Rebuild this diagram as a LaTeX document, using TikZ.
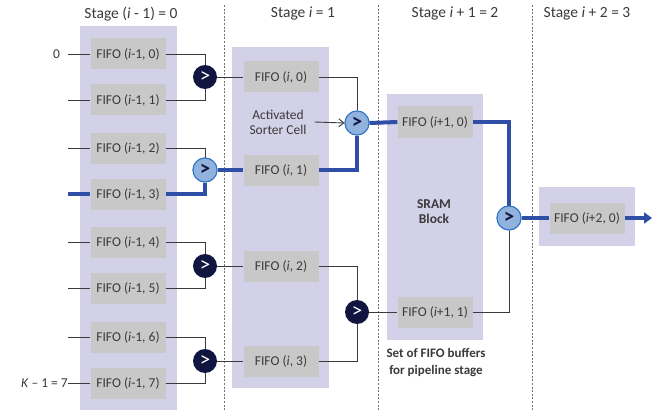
\documentclass[tikz,border=0pt]{standalone}
\usepackage{fontspec}
\setmainfont{Carlito}
\usepackage{tikz}
\usetikzlibrary{positioning,arrows.meta,calc}
\usepackage{xcolor}
\definecolor{StageBg}{RGB}{211,209,232}
\definecolor{FifoGray}{RGB}{200,200,200}
\definecolor{CellDark}{RGB}{16,22,64}
\definecolor{CellLight}{RGB}{145,178,220}
\definecolor{CellEdge}{RGB}{46,117,198}
\definecolor{PathBlue}{RGB}{47,78,166}
\definecolor{TextGray}{RGB}{58,58,58}

\begin{document}
\begin{tikzpicture}[
    x=1pt, y=-1pt,
    every node/.style={font=\fontsize{13.5}{15}\selectfont, text=TextGray},
    stagebg/.style={fill=StageBg, draw=none},
    fifo/.style={fill=FifoGray, minimum width=75pt, minimum height=31pt, inner sep=0pt},
    darkcell/.style={circle, fill=CellDark, minimum size=24pt, inner sep=0pt, text=white, font=\fontsize{21}{21}\selectfont},
    lightcell/.style={circle, fill=CellLight, draw=CellEdge, line width=1pt, minimum size=24pt, inner sep=0pt, text=CellDark, font=\fontsize{21}{21}\selectfont\bfseries},
    wire/.style={draw=TextGray, line width=0.9pt},
    hotwire/.style={draw=PathBlue, line width=4pt},
    sep/.style={draw=gray!90!black, line width=1pt, dash pattern=on 2pt off 1.6pt},
    stagelabel/.style={font=\fontsize{15.5}{17}\selectfont},
]
\useasboundingbox (0,0) rectangle (654,412);

% stage backgrounds
\fill[stagebg] (80,26) rectangle (177,410);
\fill[stagebg] (232,47) rectangle (329,388);
\fill[stagebg] (387,94) rectangle (483,340);
\fill[stagebg] (539,187) rectangle (635,246);

% stage separators
\draw[sep] (224,5) -- (224,412);
\draw[sep] (378,5) -- (378,412);
\draw[sep] (532,5) -- (532,412);

% stage titles
\node[stagelabel] at (131,14) {Stage (\textit{i} - 1) = 0};
\node[stagelabel] at (303,14) {Stage \textit{i} = 1};
\node[stagelabel] at (455,14) {Stage \textit{i} + 1 = 2};
\node[stagelabel] at (587,14) {Stage \textit{i} + 2 = 3};

% stage 0 fifos
\node[fifo] (f0) at (128,54)  {FIFO (\textit{i}-1, 0)};
\node[fifo] (f1) at (128,100) {FIFO (\textit{i}-1, 1)};
\node[fifo] (f2) at (128,148) {FIFO (\textit{i}-1, 2)};
\node[fifo] (f3) at (128,194) {FIFO (\textit{i}-1, 3)};
\node[fifo] (f4) at (128,242) {FIFO (\textit{i}-1, 4)};
\node[fifo] (f5) at (128,288) {FIFO (\textit{i}-1, 5)};
\node[fifo] (f6) at (128,337) {FIFO (\textit{i}-1, 6)};
\node[fifo] (f7) at (128,383) {FIFO (\textit{i}-1, 7)};

% inputs
\coordinate (in0) at (68,54);
\coordinate (in1) at (68,100);
\coordinate (in2) at (68,148);
\coordinate (in3) at (68,194);
\coordinate (in4) at (68,242);
\coordinate (in5) at (68,288);
\coordinate (in6) at (68,337);
\coordinate (in7) at (68,383);
\node[anchor=east, inner sep=1pt] (lab0) at (in0) {0\,\,\,};
\node[anchor=east, inner sep=0pt] (lab7) at (in7) {\textit{K} – 1 = 7};

% stage 0 sorters
\node[darkcell]  (s0) at (205,77)  {>};
\node[lightcell] (s1) at (205,170) {>};
\node[darkcell]  (s2) at (205,266) {>};
\node[darkcell]  (s3) at (205,361) {>};

% stage 1 fifos
\node[fifo] (g0) at (281,77)  {FIFO (\textit{i}, 0)};
\node[fifo] (g1) at (281,170) {FIFO (\textit{i}, 1)};
\node[fifo] (g2) at (281,266) {FIFO (\textit{i}, 2)};
\node[fifo] (g3) at (281,361) {FIFO (\textit{i}, 3)};
\node[align=center, inner sep=0pt] (act) at (278,122) {Activated\\Sorter Cell};

% stage 1 sorters
\node[lightcell] (s4) at (357,123) {>};
\node[darkcell]  (s5) at (357,312) {>};

% stage 2
\node[fifo] (h0) at (435,122) {FIFO (\textit{i}+1, 0)};
\node[fifo] (h1) at (435,312) {FIFO (\textit{i}+1, 1)};
\node[align=center, font=\fontsize{13.5}{15}\selectfont\bfseries] (sram) at (434,212) {SRAM\\Block};
\node[align=center, font=\fontsize{13}{17}\selectfont\bfseries] (setnote) at (436,363) {Set of FIFO buffers\\for pipeline stage};
\node[lightcell] (s6) at (509,218) {>};

% stage 3
\node[fifo] (k0) at (587,218) {FIFO (\textit{i}+2, 0)};
\coordinate (out) at (652,218);

% plain wires
\draw[wire] (in0) -- (f0.west);
\draw[wire] (in1) -- (f1.west);
\draw[wire] (in2) -- (f2.west);
\draw[wire] (in4) -- (f4.west);
\draw[wire] (in5) -- (f5.west);
\draw[wire] (in6) -- (f6.west);
\draw[wire] (in7) -- (f7.west);
\draw[wire] (f0.east) -| (s0.north);
\draw[wire] (f1.east) -| (s0.south);
\draw[wire] (f2.east) -| (s1.north);
\draw[wire] (f4.east) -| (s2.north);
\draw[wire] (f5.east) -| (s2.south);
\draw[wire] (f6.east) -| (s3.north);
\draw[wire] (f7.east) -| (s3.south);
\draw[wire] (s0.east) -- (g0.west);
\draw[wire] (s2.east) -- (g2.west);
\draw[wire] (s3.east) -- (g3.west);
\draw[wire] (g0.east) -| (s4.north);
\draw[wire] (g2.east) -| (s5.north);
\draw[wire] (g3.east) -| (s5.south);
\draw[wire] (s5.east) -- (h1.west);
\draw[wire] (h1.east) -| (s6.south);
\draw[wire, -{Straight Barb[length=5pt, width=8pt]}] (act.east) ++(8,0) -- (s4.west);

% winning path
\draw[hotwire] (in3) -- (f3.west);
\draw[hotwire] (f3.east) -| (s1.south);
\draw[hotwire] (s1.east) -- (g1.west);
\draw[hotwire] (g1.east) -| (s4.south);
\draw[hotwire] (s4.east) -- (h0.west);
\draw[hotwire] (h0.east) -| (s6.north);
\draw[hotwire] (s6.east) -- (k0.west);
\draw[hotwire, -{Triangle[length=8pt, width=11pt]}] (k0.east) -- (out);

% redraw light cells over thick lines
\node[lightcell] at (s1) {>};
\node[lightcell] at (s4) {>};
\node[lightcell] at (s6) {>};
\end{tikzpicture}
\end{document}
